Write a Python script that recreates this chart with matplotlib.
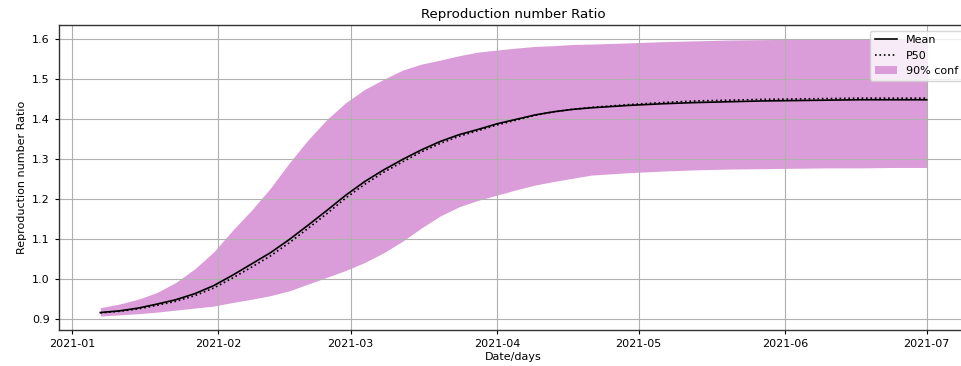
import numpy as np
import pandas as pd
import matplotlib
matplotlib.use('Agg')
import matplotlib.pyplot as plt
import matplotlib.dates as mdates

# values (every 4 days while it rises, weekly after)
dates = ['2021-01-07', '2021-01-11', '2021-01-15', '2021-01-19', '2021-01-23',
         '2021-01-27', '2021-01-31', '2021-02-04', '2021-02-08', '2021-02-12',
         '2021-02-16', '2021-02-20', '2021-02-24', '2021-02-28', '2021-03-04',
         '2021-03-08', '2021-03-12', '2021-03-16', '2021-03-20', '2021-03-24',
         '2021-03-28', '2021-04-01', '2021-04-05', '2021-04-09', '2021-04-13',
         '2021-04-17', '2021-04-21', '2021-04-29', '2021-05-06', '2021-05-13',
         '2021-05-20', '2021-05-27', '2021-06-03', '2021-06-10', '2021-06-17',
         '2021-06-24', '2021-07-01']

mean = [0.917, 0.921, 0.928, 0.938, 0.949, 0.964, 0.984, 1.010, 1.038, 1.066,
        1.099, 1.135, 1.172, 1.210, 1.244, 1.273, 1.299, 1.323, 1.344, 1.361,
        1.374, 1.388, 1.399, 1.410, 1.418, 1.424, 1.428, 1.434, 1.438, 1.441,
        1.443, 1.445, 1.446, 1.447, 1.448, 1.448, 1.448]
p50 = [0.916, 0.920, 0.926, 0.935, 0.945, 0.959, 0.978, 1.003, 1.030, 1.058,
       1.091, 1.127, 1.164, 1.203, 1.237, 1.267, 1.293, 1.318, 1.339, 1.357,
       1.371, 1.385, 1.397, 1.409, 1.418, 1.424, 1.429, 1.436, 1.441, 1.445,
       1.447, 1.449, 1.450, 1.451, 1.452, 1.452, 1.452]
upper = [0.929, 0.938, 0.950, 0.967, 0.992, 1.026, 1.068, 1.122, 1.172, 1.227,
         1.290, 1.348, 1.399, 1.441, 1.474, 1.499, 1.522, 1.537, 1.547, 1.558,
         1.567, 1.572, 1.577, 1.581, 1.583, 1.586, 1.587, 1.590, 1.593, 1.595,
         1.597, 1.598, 1.599, 1.600, 1.600, 1.600, 1.600]
lower = [0.908, 0.911, 0.914, 0.918, 0.923, 0.928, 0.933, 0.942, 0.950, 0.959,
         0.971, 0.988, 1.005, 1.022, 1.042, 1.066, 1.095, 1.128, 1.158, 1.181,
         1.197, 1.210, 1.223, 1.235, 1.244, 1.252, 1.260, 1.266, 1.270, 1.273,
         1.275, 1.276, 1.277, 1.278, 1.278, 1.279, 1.279]

x = pd.to_datetime(dates)

fig = plt.figure(figsize=(9.62, 3.66), dpi=100)
ax = fig.add_axes([0.0613, 0.0984, 0.945, 0.8333])

ax.fill_between(x, lower, upper, color='#db9dd9', label='90% conf', linewidth=0)
ax.plot(x, mean, color='black', lw=1.2, label='Mean')
ax.plot(x, p50, color='black', lw=1.2, ls=':', label='P50')

ax.xaxis.set_major_locator(mdates.MonthLocator())
ax.xaxis.set_major_formatter(mdates.DateFormatter('%Y-%m'))
ax.set_yticks(np.arange(0.9, 1.61, 0.1))
ax.yaxis.set_major_formatter(matplotlib.ticker.FormatStrFormatter('%.1f'))
ax.tick_params(labelsize=8, width=0.8, length=3)
ax.grid(True, color='#b0b0b0', lw=0.8)
for s in ax.spines.values():
    s.set_linewidth(1.0)
    s.set_color('#333333')
ax.spines['right'].set_visible(False)

ax.set_title('Reproduction number Ratio', fontsize=9.6, pad=5)
ax.set_xlabel('Date/days', fontsize=8, labelpad=2)
ax.set_ylabel('Reproduction number Ratio', fontsize=8)

h, l = ax.get_legend_handles_labels()
ax.legend([h[1], h[2], h[0]], [l[1], l[2], l[0]], loc='upper right', fontsize=8)

fig.savefig('out.png', dpi=100)
